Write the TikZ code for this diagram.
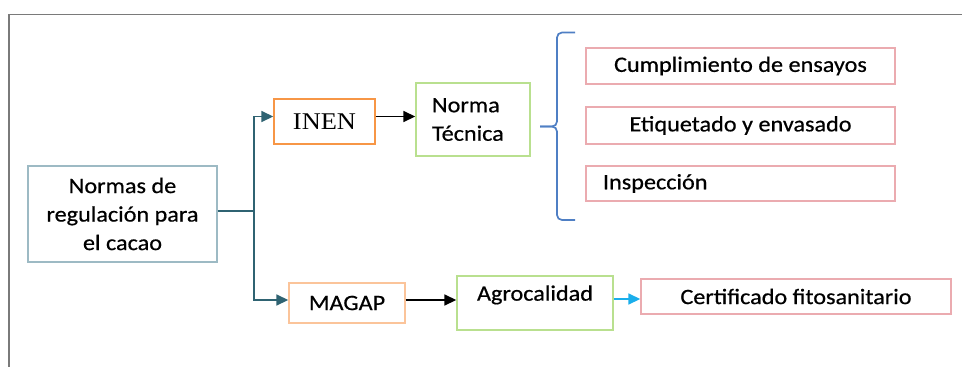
\documentclass[tikz,border=0pt]{standalone}
\usepackage{fontspec}
\setmainfont{Carlito}[FakeStretch=1.1,FakeBold=0.6]
\newfontfamily\inenfont{Liberation Serif}[FakeStretch=1.1]
\usetikzlibrary{arrows.meta}
\definecolor{framegray}{HTML}{7A7A7A}
\definecolor{mainc}{HTML}{9DBAC4}
\definecolor{trunkc}{HTML}{2F6372}
\definecolor{inenc}{HTML}{F79646}
\definecolor{magapc}{HTML}{FBC49A}
\definecolor{greenc}{HTML}{B9E08F}
\definecolor{pinkc}{HTML}{EBABB0}
\definecolor{bracec}{HTML}{4F7FC4}
\definecolor{cyanc}{HTML}{1AAEEB}
\tikzset{
  box/.style={draw, line width=1.4pt, inner sep=0pt, font=\fontsize{22}{28.5}\selectfont},
  tip/.style={-{Triangle[length=12pt,width=11pt]}, line width=1.6pt},
}
\begin{document}
\begin{tikzpicture}[x=1pt,y=-1pt]
\useasboundingbox (0,0) rectangle (962,367);
\draw[framegray, line width=1.8pt] (9,400) -- (9,14.5) -- (1000,14.5);
% nodes
\node[box, draw=mainc, minimum width=189pt, minimum height=96pt, align=center] (main) at (122.5,214) {Normas de\\regulación para\\el cacao};
\node[box, draw=inenc, minimum width=101pt, minimum height=45pt, font=\inenfont\fontsize{24}{28}\selectfont] (inen) at (324.5,121.5) {INEN};
\node[box, draw=greenc, minimum width=114pt, minimum height=73pt, text width=82pt, align=left] (norma) at (473,119.5) {Norma\\Técnica};
\node[box, draw=pinkc, minimum width=309pt, minimum height=36pt] (cump) at (740.5,66) {Cumplimiento de ensayos};
\node[box, draw=pinkc, minimum width=309pt, minimum height=37pt] (etiq) at (740.5,125.5) {Etiquetado y envasado};
\node[box, draw=pinkc, minimum width=309pt, minimum height=35pt, text width=275pt, align=left] (insp) at (740.5,183.5) {Inspección};
\node[box, draw=magapc, minimum width=116pt, minimum height=40pt] (magap) at (347,303) {MAGAP};
\node[box, draw=greenc, minimum width=156pt, minimum height=54pt, text depth=20pt] (agro) at (535,303) {Agrocalidad};
\node[box, draw=pinkc, minimum width=310pt, minimum height=35pt] (cert) at (796,296.5) {Certificado fitosanitario};
% connectors
\coordinate (j) at (254,211);
\coordinate (b) at (557,126.5);
\draw[trunkc, line width=1.6pt] (main.east |- j) -- (j);
\draw[trunkc, tip] (j) |- ([yshift=5pt]inen.west);
\draw[trunkc, tip] (j) |- ([yshift=3pt]magap.west);
\draw[black, tip] ([yshift=5pt]inen.east) -- ([yshift=5pt]inen.east -| norma.west);
\draw[black, tip] ([yshift=3pt]magap.east) -- ([yshift=3pt]magap.east -| agro.west);
\draw[cyanc, tip] ([yshift=4pt]agro.east) -- ([yshift=4pt]agro.east -| cert.west);
% brace
\draw[bracec, line width=1.7pt, rounded corners=5pt] (575,32.5) -- (557,32.5) -- (b) -- (540,126.5);
\draw[bracec, line width=1.7pt, rounded corners=5pt] (540,126.5) -- (b) -- (557,220) -- (575,220);
\end{tikzpicture}
\end{document}
